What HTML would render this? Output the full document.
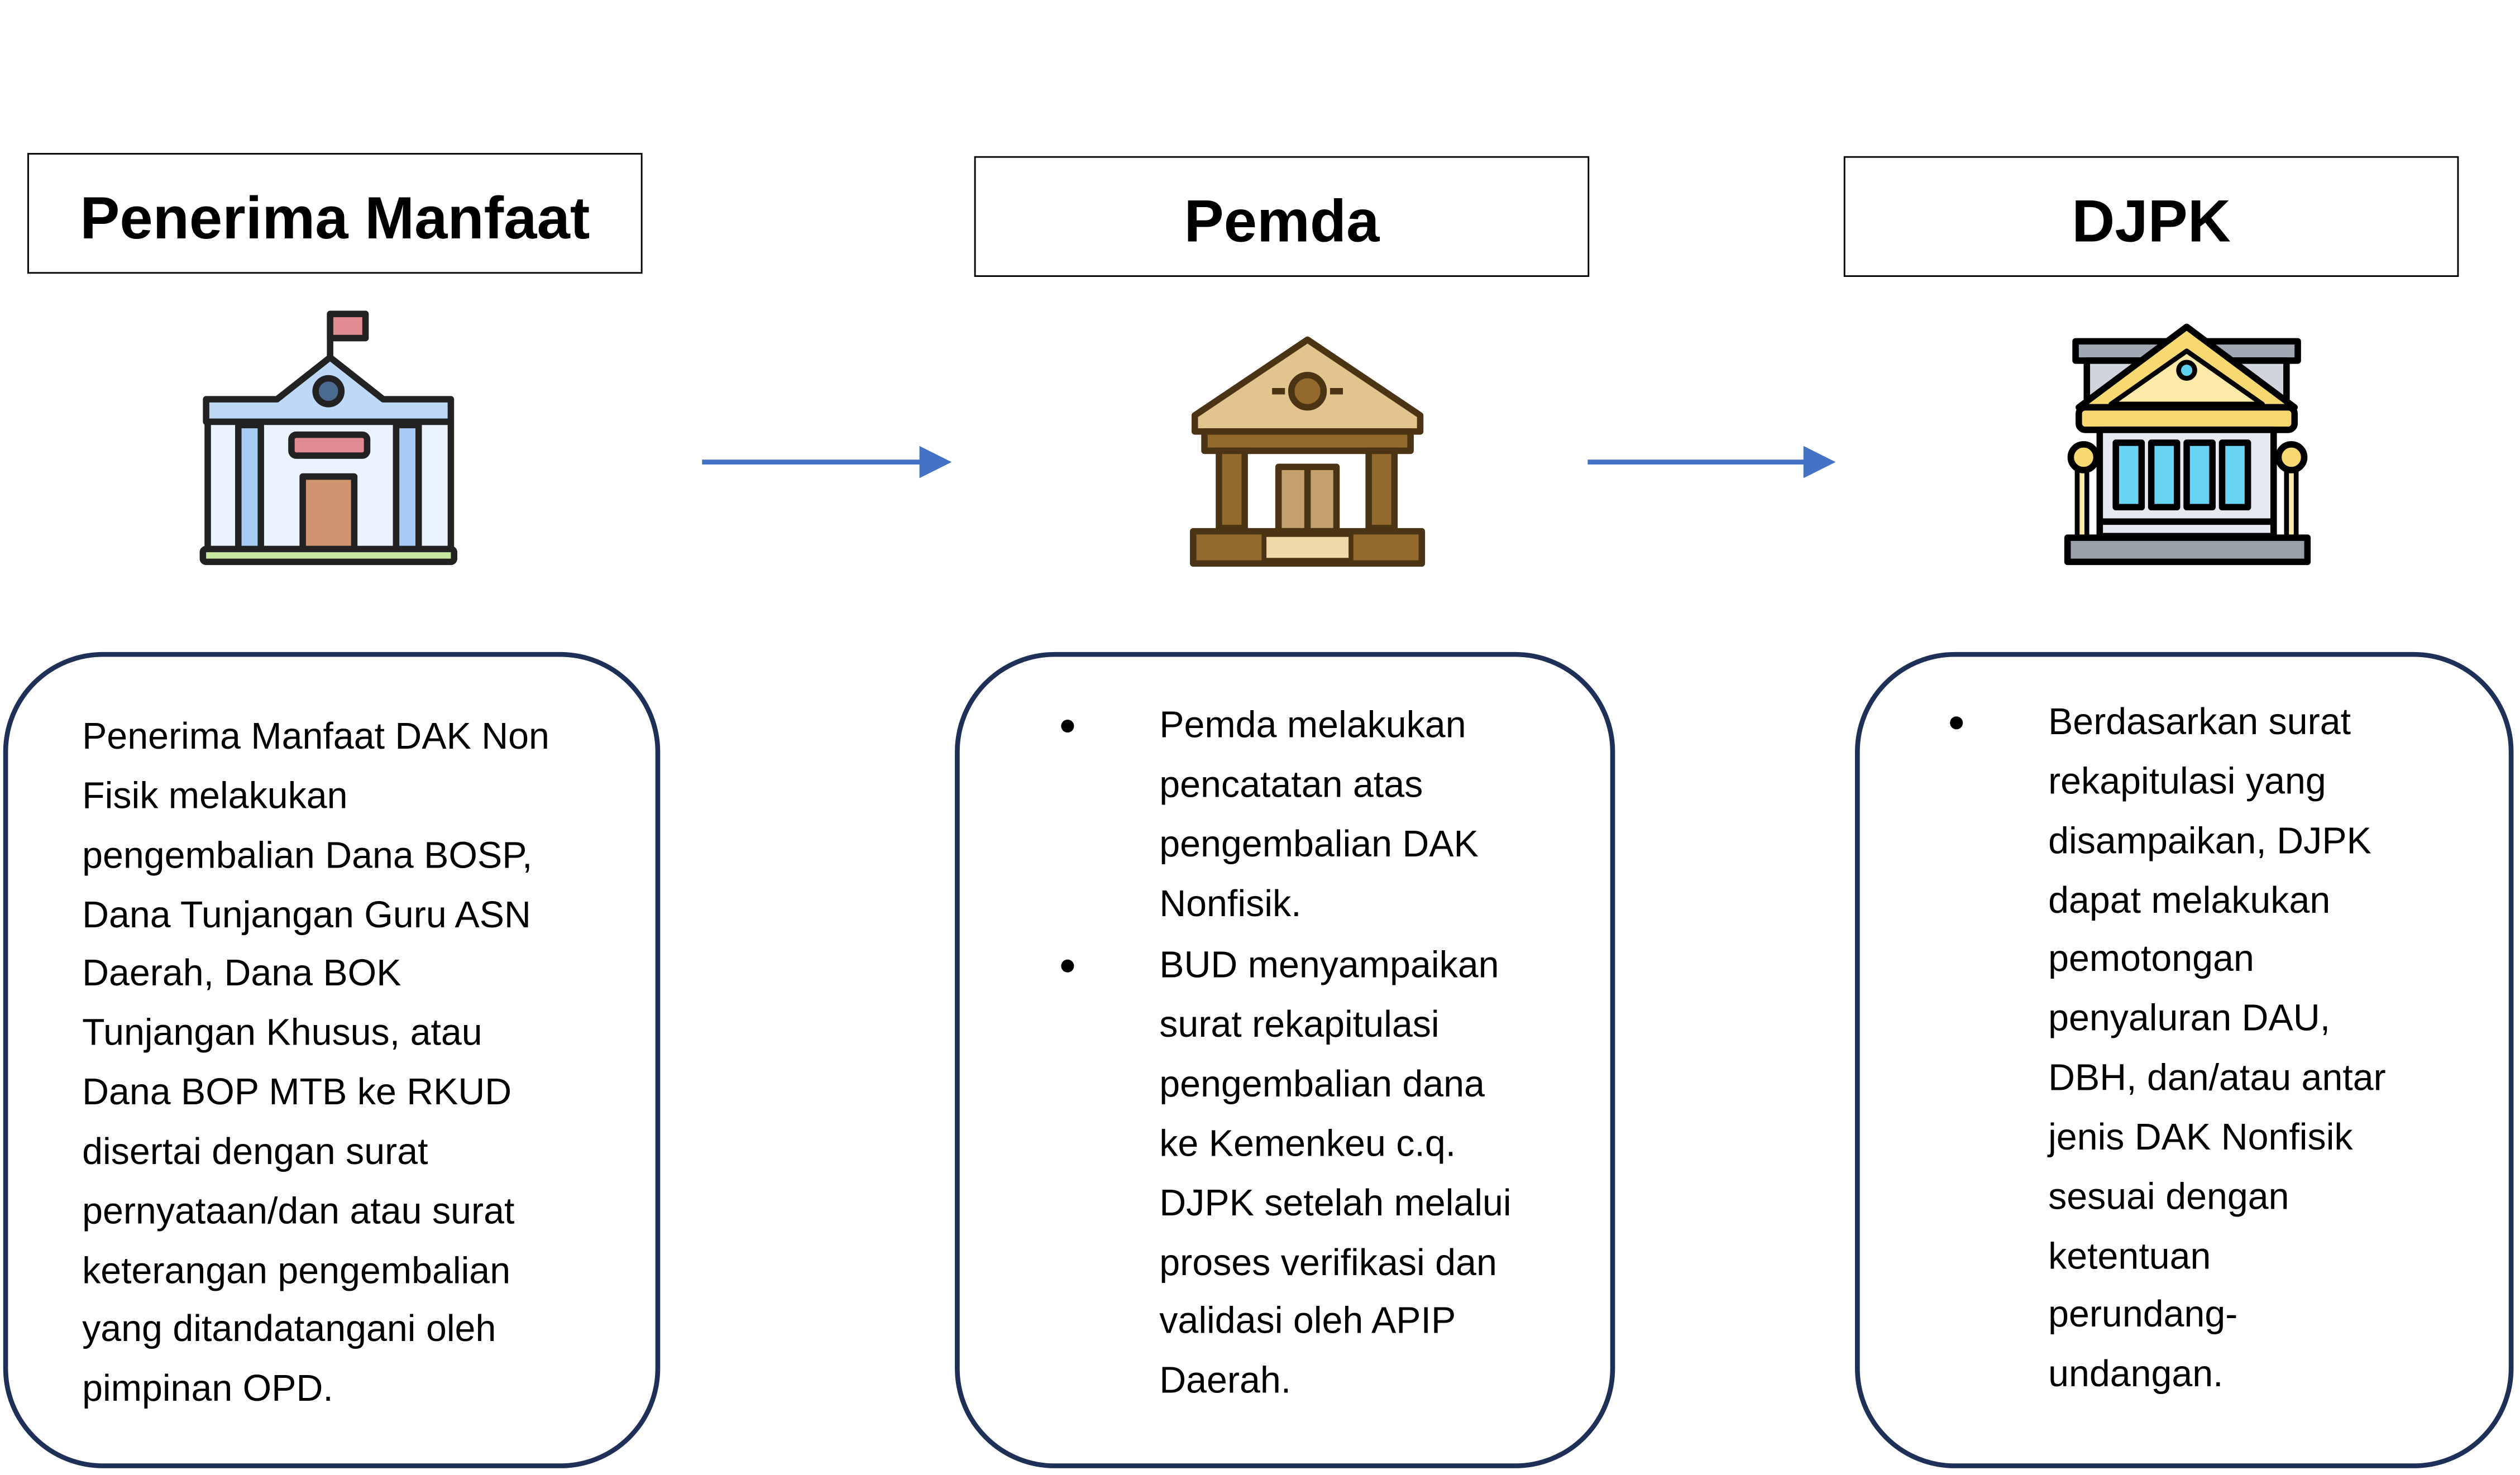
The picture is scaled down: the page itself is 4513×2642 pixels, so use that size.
<!DOCTYPE html>
<html><head><meta charset="utf-8"><style>
html,body{margin:0;padding:0;background:#fff;}
body{width:4513px;height:2642px;overflow:hidden;position:relative;}
#s{position:absolute;left:0;top:0;width:1565px;height:916px;transform:scale(2.8837);transform-origin:0 0;font-family:"Liberation Sans",sans-serif;}
.t{position:absolute;border:1.5px solid #000;box-sizing:border-box;font-weight:bold;font-size:37px;text-align:center;line-height:80px;}
.b{position:absolute;border:3px solid #1f3058;border-radius:62px;box-sizing:border-box;top:405px;height:507px;}
.tx{position:absolute;font-size:23px;white-space:nowrap;}
.tx div{height:36.85px;line-height:36.85px;}
.dot{position:absolute;width:8px;height:8px;border-radius:50%;background:#000;}
</style></head><body><div id="s">
<div class="t" style="left:17px;top:95px;width:382px;height:75px;">Penerima Manfaat</div>
<div class="t" style="left:605px;top:97px;width:382px;height:75px;">Pemda</div>
<div class="t" style="left:1145px;top:97px;width:382px;height:75px;">DJPK</div>

<svg style="position:absolute;left:0;top:0" width="1565" height="916">
<g stroke="#4472C4" stroke-width="3" fill="#4472C4">
<line x1="436" y1="287" x2="574" y2="287"/><polygon points="571,277 591,287 571,297" stroke="none"/>
<line x1="986" y1="287" x2="1123" y2="287"/><polygon points="1120,277 1140,287 1120,297" stroke="none"/>
</g>
<g stroke="#222" stroke-width="4" stroke-linejoin="round">
<line x1="205" y1="195" x2="205" y2="222"/>
<rect x="205" y="195" width="22" height="15" fill="#e08a92"/>
<polygon points="205,222 238,248 280,248 280,262 128,262 128,248 172,248" fill="#bed8f8"/>
<ellipse cx="204" cy="243" rx="8" ry="8" fill="#4a6a90"/>
<rect x="129" y="262" width="151" height="82" fill="#eaf3ff"/>
<rect x="148" y="264" width="14" height="78" fill="#a6cbf5"/>
<rect x="246" y="264" width="14" height="78" fill="#a6cbf5"/>
<rect x="181" y="270" width="47" height="13" rx="3" fill="#e08a92"/>
<rect x="188" y="296" width="32" height="46" fill="#cf9470"/>
<rect x="126" y="341" width="156" height="8" rx="2" fill="#c8e8a0"/>
</g>
<g stroke="#4a3414" stroke-width="4" stroke-linejoin="round">
<polygon points="812,211 882,258 882,268 742,268 742,258" fill="#e2c48f"/>
<circle cx="812" cy="243" r="10" fill="#946a2c"/>
<line x1="790" y1="243" x2="798" y2="243"/><line x1="826" y1="243" x2="834" y2="243"/>
<rect x="748" y="268" width="128" height="12" fill="#946a2c"/>
<rect x="757" y="280" width="16" height="48" fill="#946a2c"/>
<rect x="850" y="280" width="16" height="48" fill="#946a2c"/>
<rect x="794" y="290" width="36" height="40" fill="#c4a06c"/>
<line x1="812" y1="290" x2="812" y2="330"/>
<rect x="741" y="330" width="142" height="20" fill="#946a2c"/>
<rect x="785" y="332" width="54" height="16" fill="#f0d8a8" stroke-width="3"/>
</g>
<g stroke="#000" stroke-width="4" stroke-linejoin="round">
<rect x="1289" y="212" width="138" height="12" fill="#a0a8b4"/>
<rect x="1296" y="224" width="124" height="30" fill="#d0d4dc"/>
<polygon points="1358,203 1425,253 1291,253" fill="#f8d870"/>
<polygon points="1358,218 1405,251 1311,251" fill="#fde9a8" stroke-width="3"/>
<circle cx="1358" cy="230" r="5" fill="#60d0f0" stroke-width="3"/>
<rect x="1291" y="253" width="134" height="14" rx="4" fill="#f8d870"/>
<rect x="1304" y="267" width="108" height="66" fill="#e6eaf0"/>
<rect x="1314" y="275" width="16" height="40" fill="#68d4f2"/>
<rect x="1336" y="275" width="16" height="40" fill="#68d4f2"/>
<rect x="1358" y="275" width="16" height="40" fill="#68d4f2"/>
<rect x="1380" y="275" width="16" height="40" fill="#68d4f2"/>
<line x1="1304" y1="324" x2="1412" y2="324"/>
<rect x="1290" y="290" width="6" height="44" fill="#fde9a8" stroke-width="3"/>
<rect x="1420" y="290" width="6" height="44" fill="#fde9a8" stroke-width="3"/>
<circle cx="1294" cy="284" r="8" fill="#f8d870"/>
<circle cx="1423" cy="284" r="8" fill="#f8d870"/>
<rect x="1284" y="334" width="149" height="15" fill="#98a0aa"/>
</g>
</svg>

<div class="b" style="left:2px;width:408px;"></div>
<div class="b" style="left:593px;width:410px;"></div>
<div class="b" style="left:1152px;width:409px;"></div>

<div class="tx" style="left:51px;top:439px;">
<div>Penerima Manfaat DAK Non</div><div>Fisik melakukan</div><div>pengembalian Dana BOSP,</div><div>Dana Tunjangan Guru ASN</div><div>Daerah, Dana BOK</div><div>Tunjangan Khusus, atau</div><div>Dana BOP MTB ke RKUD</div><div>disertai dengan surat</div><div>pernyataan/dan atau surat</div><div>keterangan pengembalian</div><div>yang ditandatangani oleh</div><div>pimpinan OPD.</div>
</div>

<div class="dot" style="left:659px;top:447px;"></div>
<div class="dot" style="left:659px;top:596px;"></div>
<div class="tx" style="left:720px;top:432px;">
<div>Pemda melakukan</div><div>pencatatan atas</div><div>pengembalian DAK</div><div>Nonfisik.</div>
<div style="margin-top:2px">BUD menyampaikan</div><div>surat rekapitulasi</div><div>pengembalian dana</div><div>ke Kemenkeu c.q.</div><div>DJPK setelah melalui</div><div>proses verifikasi dan</div><div>validasi oleh APIP</div><div>Daerah.</div>
</div>

<div class="dot" style="left:1211px;top:445px;"></div>
<div class="tx" style="left:1272px;top:430px;">
<div>Berdasarkan surat</div><div>rekapitulasi yang</div><div>disampaikan, DJPK</div><div>dapat melakukan</div><div>pemotongan</div><div>penyaluran DAU,</div><div>DBH, dan/atau antar</div><div>jenis DAK Nonfisik</div><div>sesuai dengan</div><div>ketentuan</div><div>perundang-</div><div>undangan.</div>
</div>
</div></body></html>
